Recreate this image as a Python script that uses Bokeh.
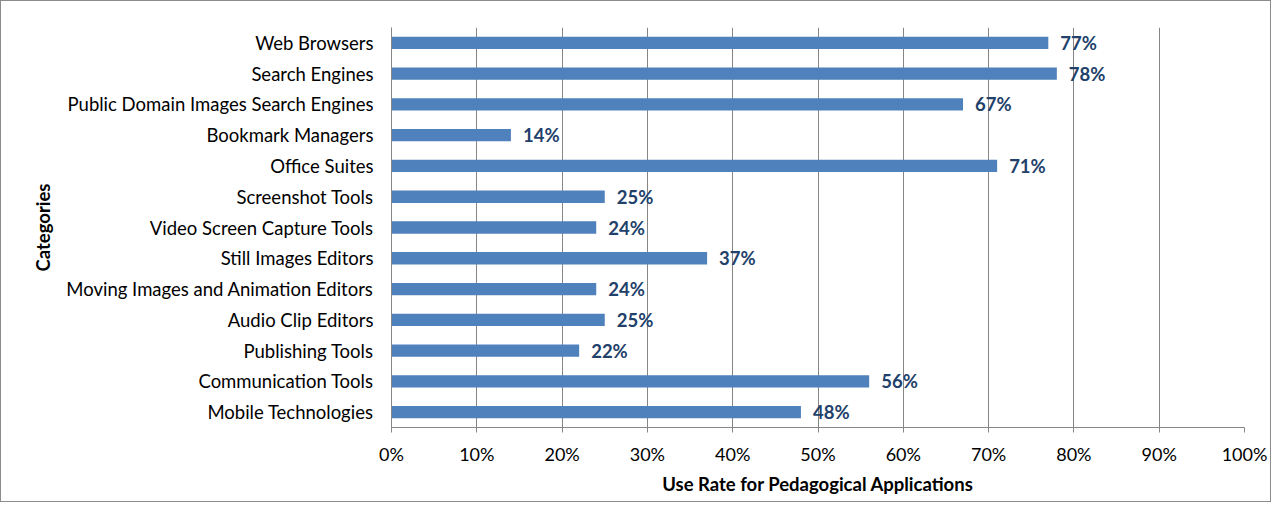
from bokeh.plotting import figure
from bokeh.models import ColumnDataSource, FixedTicker, FactorRange, Range1d
from bokeh.core.properties import value
from bokeh.embed import file_html
from bokeh.resources import INLINE

categories = ["Web Browsers", "Search Engines", "Public Domain Images Search Engines",
              "Bookmark Managers", "Office Suites", "Screenshot Tools",
              "Video Screen Capture Tools", "Still Images Editors",
              "Moving Images and Animation Editors", "Audio Clip Editors",
              "Publishing Tools", "Communication Tools", "Mobile Technologies"]
use_rate = [77, 78, 67, 14, 71, 25, 24, 37, 24, 25, 22, 56, 48]
x_ticks = [0, 10, 20, 30, 40, 50, 60, 70, 80, 90, 100]
x_tick_labels = ["0%", "10%", "20%", "30%", "40%", "50%", "60%", "70%", "80%", "90%", "100%"]
x_title = "Use Rate for Pedagogical Applications"
y_title = "Categories"

FONT = "Lato"
FS = "18.5px"
W, H = 1271, 502

src = ColumnDataSource(dict(cat=categories, val=use_rate,
                            lab=[f"{v}%" for v in use_rate]))

p = figure(width=W, height=H, output_backend="svg", toolbar_location=None,
           y_range=FactorRange(factors=list(reversed(categories))),
           x_range=Range1d(0, 100))
p.min_border_left = 390
p.min_border_right = 28
p.min_border_top = 26
p.min_border_bottom = 76
p.outline_line_color = None
p.background_fill_color = "white"
p.border_fill_color = "white"
p.styles = {"border": "1px solid #8c8c8c"}

p.hbar(y="cat", right="val", height=0.4, left=0, source=src,
       fill_color="#4F81BD", line_color=None)

p.text(x="val", y="cat", text="lab", source=src, x_offset=12,
       text_baseline="middle", text_align="left",
       text_font=value(FONT), text_font_style="bold", text_font_size=FS,
       text_color="#22416A")

# category boundary tick marks on the left axis
bounds = [(c, -0.5) for c in categories] + [(categories[0], 0.5)]
p.segment(x0=[-0.7] * len(bounds), x1=[0] * len(bounds), y0=bounds, y1=bounds,
          line_color="#868686", line_width=1)

# x axis
p.xaxis.ticker = FixedTicker(ticks=x_ticks)
p.xaxis.major_label_overrides = {t: l for t, l in zip(x_ticks, x_tick_labels)}
p.xaxis.axis_label = x_title
p.xaxis.axis_label_text_font = FONT
p.xaxis.axis_label_text_font_style = "bold"
p.xaxis.axis_label_text_font_size = FS
p.xaxis.axis_label_text_color = "black"
p.xaxis.axis_label_standoff = 5
p.xaxis.major_label_text_font = FONT
p.xaxis.major_label_text_font_size = "18px"
p.xaxis.major_label_text_color = "black"
p.xaxis.major_label_standoff = 10
p.xaxis.axis_line_color = "#868686"
p.xaxis.major_tick_line_color = "#868686"
p.xaxis.major_tick_out = 5
p.xaxis.major_tick_in = 0
p.xaxis.minor_tick_line_color = None

# y axis
p.yaxis.axis_label = y_title
p.yaxis.axis_label_text_font = FONT
p.yaxis.axis_label_text_font_style = "bold"
p.yaxis.axis_label_text_font_size = FS
p.yaxis.axis_label_text_color = "black"
p.yaxis.axis_label_standoff = 9
p.yaxis.major_label_text_font = FONT
p.yaxis.major_label_text_font_size = FS
p.yaxis.major_label_text_color = "black"
p.yaxis.major_label_standoff = 18
p.yaxis.axis_line_color = "#868686"
p.yaxis.major_tick_line_color = None
p.yaxis.major_tick_out = 0
p.yaxis.major_tick_in = 0

p.xgrid.ticker = FixedTicker(ticks=x_ticks)
p.xgrid.grid_line_color = "#868686"
p.ygrid.grid_line_color = None

open("out.html", "w").write(file_html(p, INLINE))
